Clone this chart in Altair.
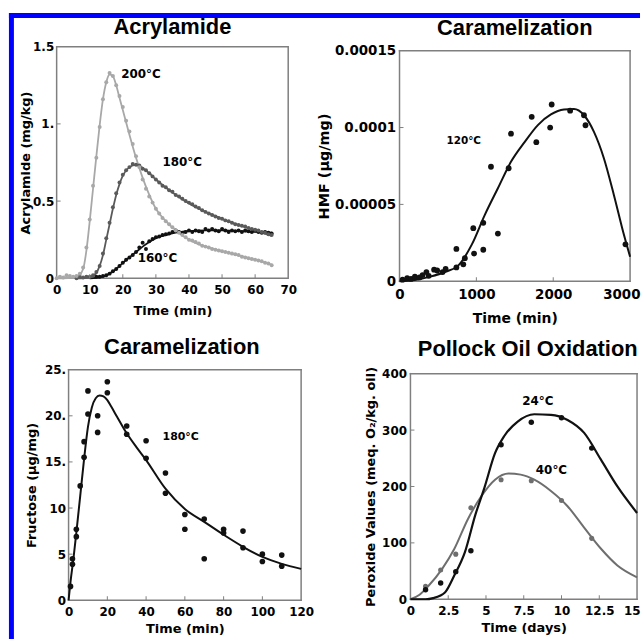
import altair as alt
import pandas as pd

# ---------------- Acrylamide (time in min, acrylamide in mg/kg) ----------------
acr200_t = list(range(0, 66))
acr200_v = [0.0, 0.01, 0.005, 0.02, 0.015, 0.01, 0.015, 0.03, 0.07, 0.2,
            0.38, 0.6, 0.78, 0.98, 1.16, 1.27, 1.33, 1.31, 1.25, 1.18,
            1.11, 1.02, 0.95, 0.87, 0.79, 0.72, 0.64, 0.58, 0.53, 0.49,
            0.45, 0.42, 0.39, 0.37, 0.35, 0.33, 0.31, 0.295, 0.28, 0.265,
            0.25, 0.245, 0.235, 0.225, 0.21, 0.205, 0.2, 0.19, 0.185, 0.18,
            0.175, 0.17, 0.165, 0.16, 0.155, 0.15, 0.14, 0.135, 0.13, 0.125,
            0.12, 0.115, 0.11, 0.1, 0.095, 0.085]
acr180_t = list(range(6, 66))
acr180_v = [0.0, 0.01, 0.005, 0.01,
            0.01, 0.02, 0.04, 0.08, 0.16, 0.26, 0.36, 0.46, 0.55, 0.62,
            0.67, 0.7, 0.72, 0.74, 0.735, 0.73, 0.71, 0.7, 0.68, 0.66,
            0.64, 0.62, 0.6, 0.59, 0.57, 0.56, 0.54, 0.53, 0.515, 0.5,
            0.49, 0.48, 0.465, 0.455, 0.44, 0.43, 0.42, 0.41, 0.4, 0.39,
            0.385, 0.375, 0.37, 0.36, 0.35, 0.345, 0.34, 0.335, 0.325, 0.32,
            0.315, 0.31, 0.3, 0.295, 0.285, 0.28]
acr160_t = list(range(12, 66))
acr160_v = [0.01, 0.01, 0.015, 0.02, 0.03, 0.045, 0.06, 0.08,
            0.1, 0.12, 0.135, 0.15, 0.17, 0.2, 0.23, 0.19, 0.24, 0.255,
            0.265, 0.27, 0.28, 0.285, 0.29, 0.3, 0.31, 0.3, 0.29, 0.3,
            0.31, 0.3, 0.31, 0.305, 0.3, 0.32, 0.31, 0.32, 0.31, 0.305,
            0.32, 0.31, 0.3, 0.31, 0.305, 0.31, 0.3, 0.31, 0.305, 0.3,
            0.31, 0.3, 0.295, 0.3, 0.295, 0.29]
acr200_ct = [0, 6, 8, 9, 10, 11, 12, 13, 14, 15, 16, 17, 18, 19, 20, 22, 24, 26, 28, 30,
             33, 36, 40, 45, 50, 55, 60, 65]
acr200_cv = [0, 0.005, 0.06, 0.18, 0.37, 0.58, 0.79, 0.99, 1.16, 1.27, 1.32, 1.31, 1.25,
             1.17, 1.09, 0.93, 0.78, 0.65, 0.54, 0.45, 0.37, 0.31, 0.25, 0.205, 0.175,
             0.148, 0.12, 0.088]
acr180_ct = [6, 10, 12, 13, 14, 15, 16, 17, 18, 19, 20, 22, 24, 26, 28, 30, 35, 40, 45, 50,
             55, 60, 65]
acr180_cv = [0, 0.005, 0.035, 0.08, 0.15, 0.25, 0.35, 0.45, 0.54, 0.61, 0.665, 0.72, 0.735,
             0.715, 0.68, 0.64, 0.555, 0.485, 0.43, 0.385, 0.345, 0.31, 0.275]
acr160_ct = [10, 12, 14, 16, 18, 20, 22, 24, 26, 28, 30, 33, 36, 40, 45, 50, 55, 60, 65]
acr160_cv = [0, 0.002, 0.01, 0.03, 0.06, 0.1, 0.135, 0.17, 0.205, 0.235, 0.26, 0.28, 0.295,
             0.305, 0.31, 0.31, 0.305, 0.3, 0.295]

# ---------------- HMF (time in min, HMF in units of 1e-5 ug/mg) ----------------
hmf_t = [40, 100, 150, 200, 260, 300, 350, 380, 450, 490, 560, 600, 740, 740, 830, 850,
         960, 970, 1090, 1090, 1190, 1280, 1420, 1450, 1720, 1780, 1960, 1980, 2220, 2400,
         2420, 2940]
hmf_v = [0.1, 0.2, 0.15, 0.3, 0.25, 0.4, 0.6, 0.35, 0.75, 0.7, 0.6, 0.8, 0.9, 2.1, 1.1, 1.5,
         3.45, 1.8, 3.8, 2.05, 7.45, 3.1, 7.35, 9.6, 10.7, 9.05, 10.0, 11.5, 11.1, 10.8,
         10.15, 2.4]
hmf_ct = [0, 200, 400, 600, 760, 940, 1110, 1280, 1450, 1630, 1800, 1970, 2140, 2270, 2400,
          2530, 2660, 2790, 2920, 3000]
hmf_cv = [0, 0.08, 0.3, 0.62, 1.0, 2.38, 4.32, 6.05, 7.77, 9.07, 10.16, 10.85, 11.17, 11.2,
          10.8, 9.72, 7.99, 5.6, 3.02, 1.6]

# ---------------- Fructose (time in min, ug/mg) ----------------
fr_t = [1, 2, 2, 4, 4, 6, 8, 8, 10, 10, 15, 15, 20, 20, 30, 30, 40, 40, 50, 50,
        60, 60, 70, 70, 80, 80, 90, 90, 100, 100, 110, 110]
fr_v = [1.5, 3.9, 4.5, 6.9, 7.7, 12.4, 15.5, 17.2, 22.7, 20.2, 20.0, 18.2, 23.7, 22.5,
        18.9, 18.0, 17.3, 15.4, 13.8, 11.6, 9.3, 7.7, 8.8, 4.5, 7.7, 7.3, 7.5, 5.7,
        5.0, 4.2, 4.9, 3.7]
fr_ct = [0, 1, 2.5, 4, 6, 8, 10, 12, 14, 16, 18, 20, 22, 25, 30, 35, 40, 50, 60, 70, 80,
         90, 100, 110, 120]
fr_cv = [0, 2.0, 4.5, 7.3, 11.3, 15.3, 18.8, 20.9, 21.9, 22.2, 22.1, 21.7, 21.0, 19.9,
         18.1, 16.6, 15.2, 12.1, 9.9, 8.5, 7.1, 5.8, 4.7, 3.95, 3.4]

# ---------------- Pollock oil (time in days, meq O2/kg oil) ----------------
po_t = [1, 2, 3, 4, 6, 8, 10, 12]
po24_v = [17, 29, 49, 86, 274, 314, 322, 268]
po40_v = [23, 52, 80, 162, 212, 210, 175, 108]
po24_ct = [0, 1, 1.5, 2.3, 2.9, 3.6, 4.3, 4.9, 5.6, 6.2, 7.1, 8.2, 9.3, 10.4, 11.5, 12.6,
           13.7, 15]
po24_cv = [0, 0, 2, 12.6, 42, 83, 150, 198, 259, 289, 315, 328, 327, 318, 295, 248, 200, 153]
po40_ct = [0, 0.6, 1.2, 2.1, 2.9, 3.8, 4.7, 5.6, 6.5, 7.3, 8.2, 9.3, 10.4, 11.5, 12.6, 13.7, 15]
po40_cv = [0, 8, 24, 54, 89, 142, 183, 212, 223, 221, 212, 192, 165, 127, 90, 60, 39]

FRAME = '#7f7f7f'
AXF = 'DejaVu Sans'
TF = 'Liberation Sans'
BLUE = '#0000ff'


def axis(values, title, lp, tp, fs=12, tfs=13, fmt=None, expr=None, offset=None,
         last=None, last_shift=0):
    kw = dict(values=values, title=title, labelFont=AXF, labelFontWeight='bold',
              labelFontSize=fs, labelColor='black', titleFont=AXF, titleFontWeight='bold',
              titleFontSize=tfs, titleColor='black', labelPadding=lp, titlePadding=tp,
              domain=False, ticks=False, tickSize=0, grid=False, labelFlush=False,
              labelOverlap=False)
    if fmt is not None:
        kw['format'] = fmt
    if expr is not None:
        kw['labelExpr'] = expr
    if offset is not None:
        kw['offset'] = offset
    if last is not None:
        # the last label sits at the figure's right edge: keep it inside the picture
        kw['labelAlign'] = {'condition': {'test': 'datum.value == %s' % last, 'value': 'right'},
                            'value': 'center'}
        kw['labelOffset'] = {'condition': {'test': 'datum.value == %s' % last,
                                           'value': last_shift}, 'value': 0}
    return alt.Axis(**kw)


class Panel:
    def __init__(self, xd, yd, wpx, hpx, xs, ys, xa, ya):
        self.xd, self.yd, self.wpx, self.hpx = xd, yd, wpx, hpx
        self.xs, self.ys, self.xa, self.ya = xs, ys, xa, ya
        self.layers = []

    def X(self, f='t'):
        return alt.X(f + ':Q', scale=self.xs, axis=self.xa)

    def Y(self, f='v'):
        return alt.Y(f + ':Q', scale=self.ys, axis=self.ya)

    def line(self, t, v, color, width=2):
        df = pd.DataFrame({'t': t, 'v': v})
        self.layers.append(alt.Chart(df).mark_line(
            color=color, strokeWidth=width, interpolate='monotone').encode(x=self.X(), y=self.Y()))

    def dots(self, t, v, color, size):
        df = pd.DataFrame({'t': t, 'v': v})
        self.layers.append(alt.Chart(df).mark_circle(color=color, size=size, opacity=1).encode(
            x=self.X(), y=self.Y()))

    def label(self, t, v, text, size=12):
        df = pd.DataFrame({'t': [t], 'v': [v], 'txt': [text]})
        self.layers.append(alt.Chart(df).mark_text(
            align='left', baseline='middle', font=AXF, fontWeight='bold', fontSize=size,
            color='black').encode(x=self.X(), y=self.Y(), text='txt:N'))

    def frame(self, color, w=1.5):
        # plot frame: four thin strips along the scale domain edges
        x0, x1 = self.xd
        y0, y1 = self.yd
        dx = (x1 - x0) / self.wpx * w / 2.0
        dy = (y1 - y0) / self.hpx * w / 2.0
        sides = pd.DataFrame({
            't': [x0 - dx, x0 - dx, x0 - dx, x1 - dx],
            't2': [x1 + dx, x1 + dx, x0 + dx, x1 + dx],
            'v': [y0 - dy, y1 - dy, y0 - dy, y0 - dy],
            'v2': [y0 + dy, y1 + dy, y1 + dy, y1 + dy]})
        self.layers.append(alt.Chart(sides).mark_rect(color=color).encode(
            x=self.X(), x2='t2:Q', y=self.Y(), y2='v2:Q'))

    def ticks(self, xv, yv, left, bottom, color):
        # short inward ticks, 1 px wide, positioned through the panel scales
        dx = (self.xd[1] - self.xd[0]) / self.wpx / 2.0
        dy = (self.yd[1] - self.yd[0]) / self.hpx / 2.0
        xt = pd.DataFrame({'t': [x - dx for x in xv], 't2': [x + dx for x in xv]})
        self.layers.append(alt.Chart(xt).mark_rect(color=color).encode(
            x=self.X(), x2='t2:Q', y=alt.value(bottom - 4), y2=alt.value(bottom)))
        yt = pd.DataFrame({'v': [y - dy for y in yv], 'v2': [y + dy for y in yv]})
        self.layers.append(alt.Chart(yt).mark_rect(color=color).encode(
            y=self.Y(), y2='v2:Q', x=alt.value(left), x2=alt.value(left + 4)))

    def title(self, text, cx, cy):
        df = pd.DataFrame({'ttl': [text]})
        self.layers.append(alt.Chart(df).mark_text(
            align='center', baseline='middle', font=TF, fontWeight='bold', fontSize=22,
            color='black').encode(x=alt.value(cx), y=alt.value(cy), text='ttl:N'))

    def band(self, x0, x1, y0, y1):
        self.layers.append(alt.Chart(pd.DataFrame({'s': [0]})).mark_rect(color=BLUE).encode(
            x=alt.value(x0), x2=alt.value(x1), y=alt.value(y0), y2=alt.value(y1)))

    def chart(self, w, h, stroke='transparent'):
        return alt.layer(*self.layers).properties(
            width=w, height=h, view=alt.ViewBackground(stroke=stroke, strokeWidth=1.5))


# ----- Panel 1: Acrylamide (view at 56,44, view = frame) -----
W1, H1 = 233, 233
P1 = Panel((0, 70), (0, 1.5), W1, H1,
           alt.Scale(domain=[0, 70], nice=False, zero=False),
           alt.Scale(domain=[0, 1.5], nice=False, zero=False),
           axis(list(range(0, 71, 10)), 'Time (min)', 6, 9),
           axis([0, 0.5, 1, 1.5], 'Acrylamide (mg/kg)', 3, 0, fmt='.1~f',
                expr="datum.value == 1 ? '1.' : datum.label"))
P1.line(acr160_ct, acr160_cv, '#111111', 1.8)
P1.line(acr180_ct, acr180_cv, '#5a5a5a', 1.8)
P1.line(acr200_ct, acr200_cv, '#a8a8a8', 1.8)
P1.dots(acr160_t, acr160_v, '#111111', 16)
P1.dots(acr180_t, acr180_v, '#5a5a5a', 16)
P1.dots(acr200_t, acr200_v, '#a8a8a8', 16)
P1.label(19.5, 1.32, '200°C')
P1.label(32, 0.75, '180°C')
P1.label(24.5, 0.13, '160°C')
P1.ticks(list(range(10, 70, 10)), [0.5, 1], 0, H1, FRAME)
P1.title('Acrylamide', 116.5, -20)
# blue figure border (top and left edges)
P1.band(-48, 587, -34, -29)
P1.band(-48, -43, -34, 596)
c1 = P1.chart(W1, H1, stroke=FRAME)

# ----- Panel 2: HMF (view at 401,44; frame starts 4 px lower) -----
W2, H2 = 232, 236
P2 = Panel((0, 3000), (0, 0.00015), W2, H2 - 4,
           alt.Scale(domain=[0, 3000], nice=False, zero=False),
           alt.Scale(domain=[0, 0.00015], nice=False, zero=False, range=[H2, 4]),
           axis([0, 1000, 2000, 3000], 'Time (min)', 6, 11, fs=13.5, tfs=14, fmt='d',
                last=3000, last_shift=10),
           axis([0, 0.00005, 0.0001, 0.00015], 'HMF (µg/mg)', 4, 3, fs=13.5, tfs=14.5,
                fmt='.5~f'))
P2.frame(FRAME)
P2.line(hmf_ct, [v * 1e-5 for v in hmf_cv], '#111111', 2)
P2.dots(hmf_t, [v * 1e-5 for v in hmf_v], '#111111', 34)
P2.label(610, 9.1e-5, '120°C', size=10.5)
P2.ticks([1000, 2000], [0.00005, 0.0001], 0, H2, FRAME)
P2.title('Caramelization', 116, -19)
c2 = P2.chart(W2, H2)

# ----- Panel 3: Fructose (view at 56,369; frame starts 12 px right) -----
W3, H3 = 246, 232
P3 = Panel((0, 120), (0, 25), W3 - 12, H3,
           alt.Scale(domain=[0, 120], nice=False, zero=False, range=[12, W3]),
           alt.Scale(domain=[0, 25], nice=False, zero=False),
           axis(list(range(0, 121, 20)), 'Time (min)', 6, 5),
           axis([0, 5, 10, 15, 20, 25], 'Fructose (µg/mg)', 3, 6, offset=-12,
                expr="datum.value >= 15 ? datum.label + '.' : datum.label"))
P3.frame(FRAME)
P3.line(fr_ct, fr_cv, '#111111', 2)
P3.dots(fr_t, fr_v, '#111111', 32)
P3.label(48.5, 17.7, '180°C', size=11)
P3.ticks(list(range(20, 120, 20)), [5, 10, 15, 20], 12, H3, FRAME)
P3.title('Caramelization', 126, -23)
c3 = P3.chart(W3, H3)

# ----- Panel 4: Pollock oil (view at 401,369; frame at +11,+4) -----
W4, H4 = 239, 231
P4 = Panel((0, 15), (0, 400), W4 - 11, H4 - 4,
           alt.Scale(domain=[0, 15], nice=False, zero=False, range=[11, W4]),
           alt.Scale(domain=[0, 400], nice=False, zero=False, range=[H4, 4]),
           axis([0, 2.5, 5, 7.5, 10, 12.5, 15], 'Time (days)', 6, 5, fmt='.1~f',
                last=15, last_shift=3),
           axis([0, 100, 200, 300, 400], 'Peroxide Values (meq. O₂/kg. oil)', 4, 4,
                offset=-11))
P4.frame(FRAME)
P4.line(po40_ct, po40_cv, '#6e6e6e', 2)
P4.line(po24_ct, po24_cv, '#111111', 2.2)
P4.dots(po_t, po40_v, '#6e6e6e', 26)
P4.dots(po_t, po24_v, '#111111', 30)
P4.label(7.4, 351, '24°C')
P4.label(8.3, 230, '40°C')
P4.ticks([2.5, 5, 7.5, 10, 12.5], [100, 200, 300], 11, H4, FRAME)
P4.title('Pollock Oil Oxidation', 129, -21)
c4 = P4.chart(W4, H4)

chart = alt.concat(c1, c2, c3, c4, columns=2, spacing={'row': 89, 'column': 99},
                   bounds='flush').properties(
    padding={'left': 8, 'top': 10, 'right': 0, 'bottom': 0},
    background='white',
)

chart.save("out.html", embed_options={"renderer": "svg", "actions": False})
